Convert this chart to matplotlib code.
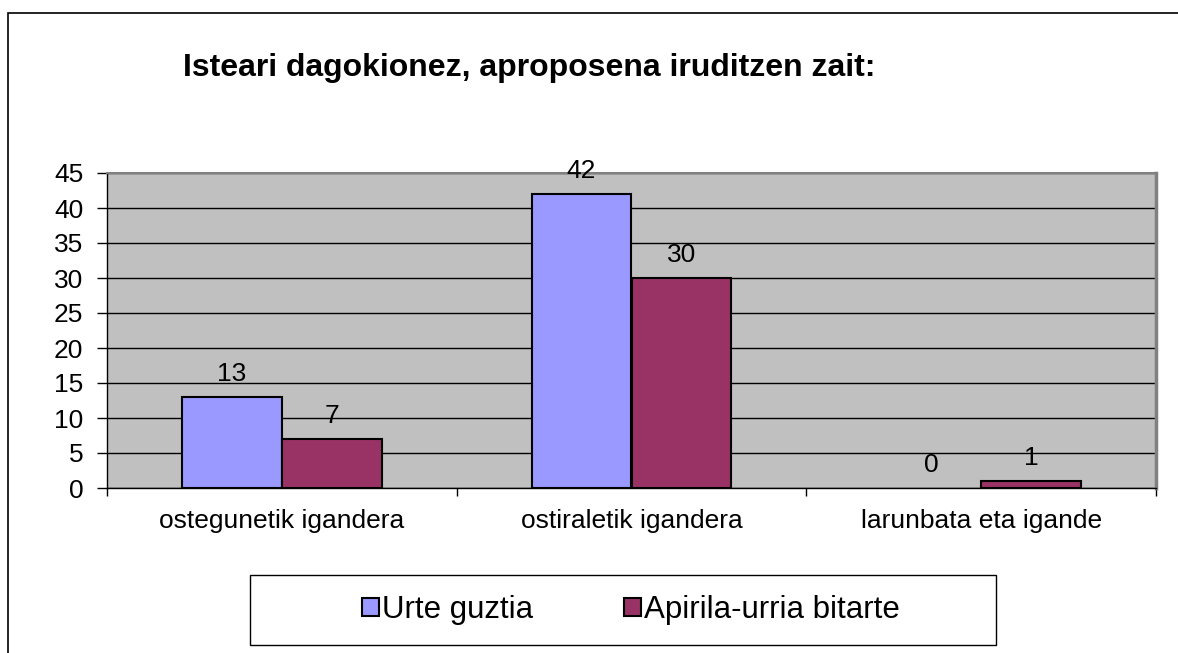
import matplotlib.pyplot as plt
from matplotlib.patches import Rectangle
import numpy as np

plt.rcParams['font.family'] = ['Liberation Sans', 'DejaVu Sans']

categories = ['ostegunetik igandera', 'ostiraletik igandera', 'larunbata eta igande']
urte_guztia = [13, 42, 0]
apirila_urria = [7, 30, 1]
series_names = ['Urte guztia', 'Apirila-urria bitarte']
colors = ['#9999FF', '#993366']

W, H = 1178, 653
fig = plt.figure(figsize=(W / 100, H / 100), dpi=100)
# outer chart border
fig.patches.append(Rectangle((8 / W, -0.1), 1.2, 1 - 13 / H + 0.1,
                             transform=fig.transFigure, fill=False,
                             edgecolor='black', linewidth=1.2))

ax = fig.add_axes([107 / W, 1 - 488 / H, (1156 - 107) / W, (488 - 173) / H])
ax.set_facecolor('#C0C0C0')

x = np.arange(len(categories))
w = 100 / 350
b1 = ax.bar(x - w / 2, urte_guztia, w, color=colors[0], edgecolor='black', linewidth=1.5, label=series_names[0], zorder=3)
b2 = ax.bar(x + w / 2, apirila_urria, w, color=colors[1], edgecolor='black', linewidth=1.5, label=series_names[1], zorder=3)

for bars, vals in [(b1, urte_guztia), (b2, apirila_urria)]:
    for rect, v in zip(bars, vals):
        if v == 0:
            rect.set_linewidth(0)
        ax.annotate(str(v), (rect.get_x() + rect.get_width() / 2, v),
                    xytext=(0, 8), textcoords='offset points',
                    ha='center', va='bottom', fontsize=19)

ax.set_xlim(-0.5, len(categories) - 0.5)
ax.set_ylim(0, 45)
ax.set_yticks(range(0, 46, 5))
ax.yaxis.grid(True, color='black', linewidth=1)
ax.set_axisbelow(True)
ax.tick_params(axis='y', labelsize=19, length=7, width=1, direction='out', pad=10)

ax.set_xticks(np.arange(-0.5, len(categories), 1))
ax.set_xticklabels([])
ax.set_xticks(x, minor=True)
ax.set_xticklabels(categories, minor=True)
ax.tick_params(axis='x', which='major', length=6, width=1, direction='out')
ax.tick_params(axis='x', which='minor', length=0, labelsize=19, pad=15)

for s in ['left', 'bottom']:
    ax.spines[s].set_color('black')
    ax.spines[s].set_linewidth(1)
ax.spines['top'].set_color('#808080')
ax.spines['top'].set_linewidth(1.5)
ax.spines['right'].set_color('#808080')
ax.spines['right'].set_linewidth(2.5)

fig.text(529 / W, 1 - 68 / H, 'Isteari dagokionez, aproposena iruditzen zait:',
         ha='center', va='center', fontsize=23, fontweight='bold')

# legend box
fig.patches.append(Rectangle((250 / W, 1 - 645 / H), (996 - 250) / W, (645 - 575) / H,
                             transform=fig.transFigure, facecolor='white',
                             edgecolor='black', linewidth=1, zorder=1))
leg = fig.legend(handles=[b1, b2], labels=series_names, loc='center',
                 bbox_to_anchor=(631 / W, 1 - 610 / H),
                 ncol=2, fontsize=22.5, frameon=False,
                 handlelength=0.55, handleheight=0.55,
                 handletextpad=0.1, columnspacing=2.9)
for p in leg.get_patches():
    p.set_linewidth(1.5)

plt.savefig('out.png', dpi=100)
